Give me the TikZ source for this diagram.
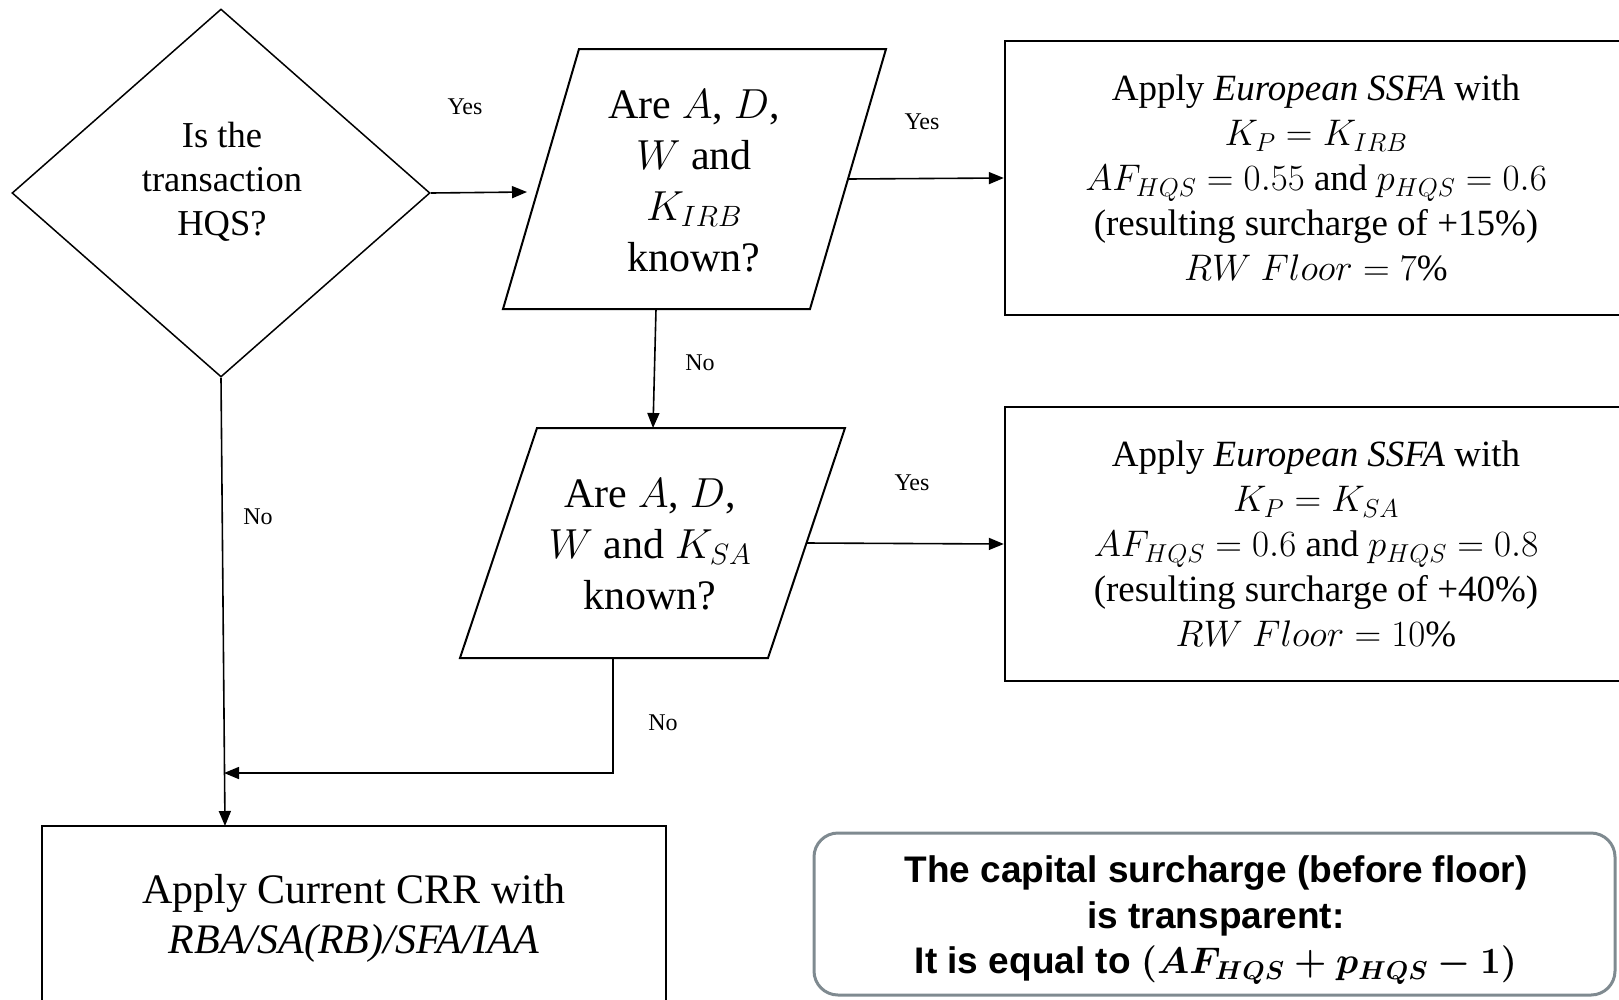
\documentclass[tikz,border=0pt]{standalone}
\usepackage{fix-cm}
\usepackage{fontspec}
\setmainfont{Liberation Serif}
\newfontfamily\sansbold{Liberation Sans}
\usetikzlibrary{shapes.geometric,arrows.meta}
\newcommand\setfs[2]{\fontsize{#1}{#2}\selectfont}
\definecolor{notegray}{HTML}{7F8A90}
\begin{document}
\begin{tikzpicture}[x=1pt,y=-1pt,
  thinshape/.style={draw,line width=1.5pt},
  parashape/.style={draw,line width=2pt,line join=miter},
  boxshape/.style={draw,line width=2.4pt,inner sep=0pt,align=center},
  conn/.style={line width=1.6pt,-{Triangle[length=15pt,width=12pt]}},
  lbl/.style={font=\setfs{24}{28}},
  qtext/.style={align=center,inner sep=0pt}
]
\useasboundingbox (0,0) rectangle (1619,999);

% decision diamond
\node[diamond,thinshape,minimum width=418pt,minimum height=368pt,inner sep=0pt] (q0) at (221,193) {};
\node[qtext,font=\setfs{36.5}{44}] (q0t) at (222,182) {Is the\\transaction\\HQS?};

% parallelogram 1
\coordinate (p1a) at (579,49);
\coordinate (p1b) at (886,49);
\coordinate (p1c) at (810,309);
\coordinate (p1d) at (503,309);
\draw[parashape] (p1a) -- (p1b) -- (p1c) -- (p1d) -- cycle;
\node[qtext,font=\setfs{42}{51}] (p1) at (694,181) {Are $A$, $D$,\\$W$ and\\$K_{IRB}$\\known?};
\coordinate (p1w) at (527,192);
\coordinate (p1e) at (848,179);
\coordinate (p1s) at (656,309);

% parallelogram 2
\coordinate (p2a) at (537,428);
\coordinate (p2b) at (845,428);
\coordinate (p2c) at (768,658);
\coordinate (p2d) at (460,658);
\draw[parashape] (p2a) -- (p2b) -- (p2c) -- (p2d) -- cycle;
\node[qtext,font=\setfs{42}{51}] (p2) at (650,544) {Are $A$, $D$,\\$W$ and $K_{SA}$\\known?};
\coordinate (p2n) at (653,428);
\coordinate (p2e) at (806.5,543);
\coordinate (p2s) at (613,658);

% result boxes
\node[boxshape,minimum width=622pt,minimum height=274pt,font=\setfs{37}{45}] (b1) at (1316,178)
 {Apply \textit{European SSFA} with\\
  $K_P = K_{IRB}$\\
  $AF_{HQS} = 0.55$ and $p_{HQS} = 0.6$\\
  (resulting surcharge of +15\%)\\
  $RW\ Floor = 7\%$};
\node[boxshape,minimum width=622pt,minimum height=274pt,font=\setfs{37}{45}] (b2) at (1316,544)
 {Apply \textit{European SSFA} with\\
  $K_P = K_{SA}$\\
  $AF_{HQS} = 0.6$ and $p_{HQS} = 0.8$\\
  (resulting surcharge of +40\%)\\
  $RW\ Floor = 10\%$};
\node[draw,line width=1.6pt,inner sep=0pt,align=center,minimum width=624pt,minimum height=184pt,font=\setfs{42}{50}] (crr) at (354,918)
 {Apply Current CRR with\\\textit{RBA/SA(RB)/SFA/IAA}};

% note box
\node[draw=notegray,line width=3pt,rounded corners=24pt,inner sep=0pt,
      minimum width=801pt,minimum height=162pt] (notebox) at (1214.5,914) {};
\node[qtext,font=\sansbold\bfseries\setfs{37}{45.5}] (note) at (1216,920)
 {The capital surcharge (before floor)\\is transparent:\\It is equal to {\boldmath$\left(AF_{HQS}+p_{HQS}-\mathbf{1}\right)$}};

% connectors
\coordinate (crrin) at (225,826);
\coordinate (join) at (224,773);
\draw[conn] (q0.east) -- (p1w);
\draw[conn] (p1e) -- (b1.west);
\draw[conn] (p1s) -- (p2n);
\draw[conn] (p2e) -- (b2.west);
\draw[conn] (q0.south) -- (crrin);
\draw[conn] (p2s) -- (p2s |- join) -- (join);

% labels
\node[lbl] (y1) at (465,107) {Yes};
\node[lbl] (y2) at (922,122) {Yes};
\node[lbl] (y3) at (912,483) {Yes};
\node[lbl] (n1) at (700,363) {No};
\node[lbl] (n2) at (258,517) {No};
\node[lbl] (n3) at (663,723) {No};
\end{tikzpicture}
\end{document}
